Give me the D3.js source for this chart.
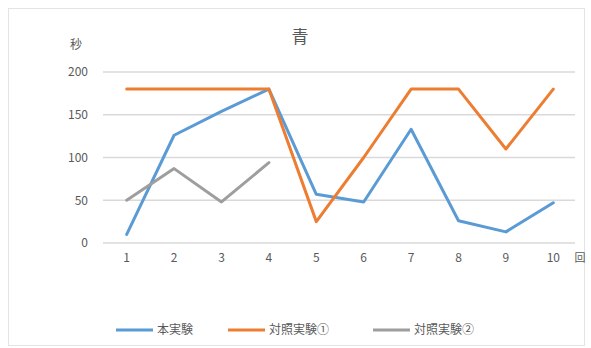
<!DOCTYPE html>
<html>
<head>
<meta charset="utf-8">
<script src="https://cdn.jsdelivr.net/npm/d3@7"></script>
<style>
  body { margin: 0; background: #fff; }
  text { font-family: "Noto Sans CJK JP", "Noto Sans", sans-serif; fill: #595959; }
</style>
</head>
<body>
<div id="chart"></div>
<script>
// data
const trials = ["1", "2", "3", "4", "5", "6", "7", "8", "9", "10"];
const mainExp = [10, 126, 154, 180, 57, 48, 133, 26, 13, 47];
const control1 = [180, 180, 180, 180, 25, 100, 180, 180, 110, 180];
const control2 = [50, 87, 48, 94];
const yTicks = [0, 50, 100, 150, 200];
const seriesNames = ["本実験", "対照実験①", "対照実験②"];
const colors = ["#5B9BD5", "#ED7D31", "#9E9E9E"];

const width = 591, height = 348;
const margin = { top: 72, right: 14, bottom: 105, left: 103 };

const svg = d3.select("#chart").append("svg")
  .attr("width", width)
  .attr("height", height);

// chart frame
svg.append("rect")
  .attr("x", 8.5).attr("y", 8.5)
  .attr("width", 576).attr("height", 337)
  .attr("fill", "#fff")
  .attr("stroke", "#e4e4e4");

const xScale = d3.scaleBand()
  .domain(trials)
  .range([margin.left, width - margin.right]);

const yScale = d3.scaleLinear()
  .domain([0, 200])
  .range([height - margin.bottom, margin.top]);

// gridlines
svg.append("g")
  .selectAll("line")
  .data(yTicks)
  .join("line")
  .attr("x1", margin.left)
  .attr("x2", width - margin.right - 2)
  .attr("y1", d => yScale(d))
  .attr("y2", d => yScale(d))
  .attr("stroke", "#d9d9d9")
  .attr("stroke-width", 1.5);

// y axis labels
const yAxis = d3.axisLeft(yScale).tickValues(yTicks).tickSize(0).tickPadding(15);
svg.append("g")
  .attr("transform", `translate(${margin.left},0)`)
  .call(yAxis)
  .call(g => g.select(".domain").remove())
  .selectAll("text")
  .style("font-size", "12px")
  .attr("fill", "#595959");

// x axis labels
const xAxis = d3.axisBottom(xScale).tickSize(0).tickPadding(10);
svg.append("g")
  .attr("transform", `translate(0,${yScale(0)})`)
  .call(xAxis)
  .call(g => g.select(".domain").remove())
  .selectAll("text")
  .style("font-size", "12px")
  .attr("fill", "#595959");

// axis units + title
svg.append("text").attr("x", 76).attr("y", 49)
  .attr("text-anchor", "middle").style("font-size", "12px").text("秒");
svg.append("text").attr("x", 580).attr("y", 262)
  .attr("text-anchor", "middle").style("font-size", "11px").text("回");
svg.append("text").attr("x", 300).attr("y", 43)
  .attr("text-anchor", "middle").style("font-size", "17px").text("青");

// lines
const line = d3.line()
  .x((d, i) => xScale(trials[i]) + xScale.bandwidth() / 2)
  .y(d => yScale(d));

[mainExp, control1, control2].forEach((vals, i) => {
  svg.append("path")
    .datum(vals)
    .attr("fill", "none")
    .attr("stroke", colors[i])
    .attr("stroke-width", 3)
    .attr("stroke-linejoin", "round")
    .attr("stroke-linecap", "round")
    .attr("d", line);
});

// legend
const legendX = [116, 228, 373];
const legend = svg.append("g")
  .selectAll("g")
  .data(seriesNames)
  .join("g")
  .attr("transform", (d, i) => `translate(${legendX[i]},330)`);

legend.append("line")
  .attr("x1", 0).attr("x2", 37)
  .attr("stroke", (d, i) => colors[i])
  .attr("stroke-width", 3);

legend.append("text")
  .attr("x", 41).attr("y", 4)
  .style("font-size", "12px")
  .text(d => d);
</script>
</body>
</html>
